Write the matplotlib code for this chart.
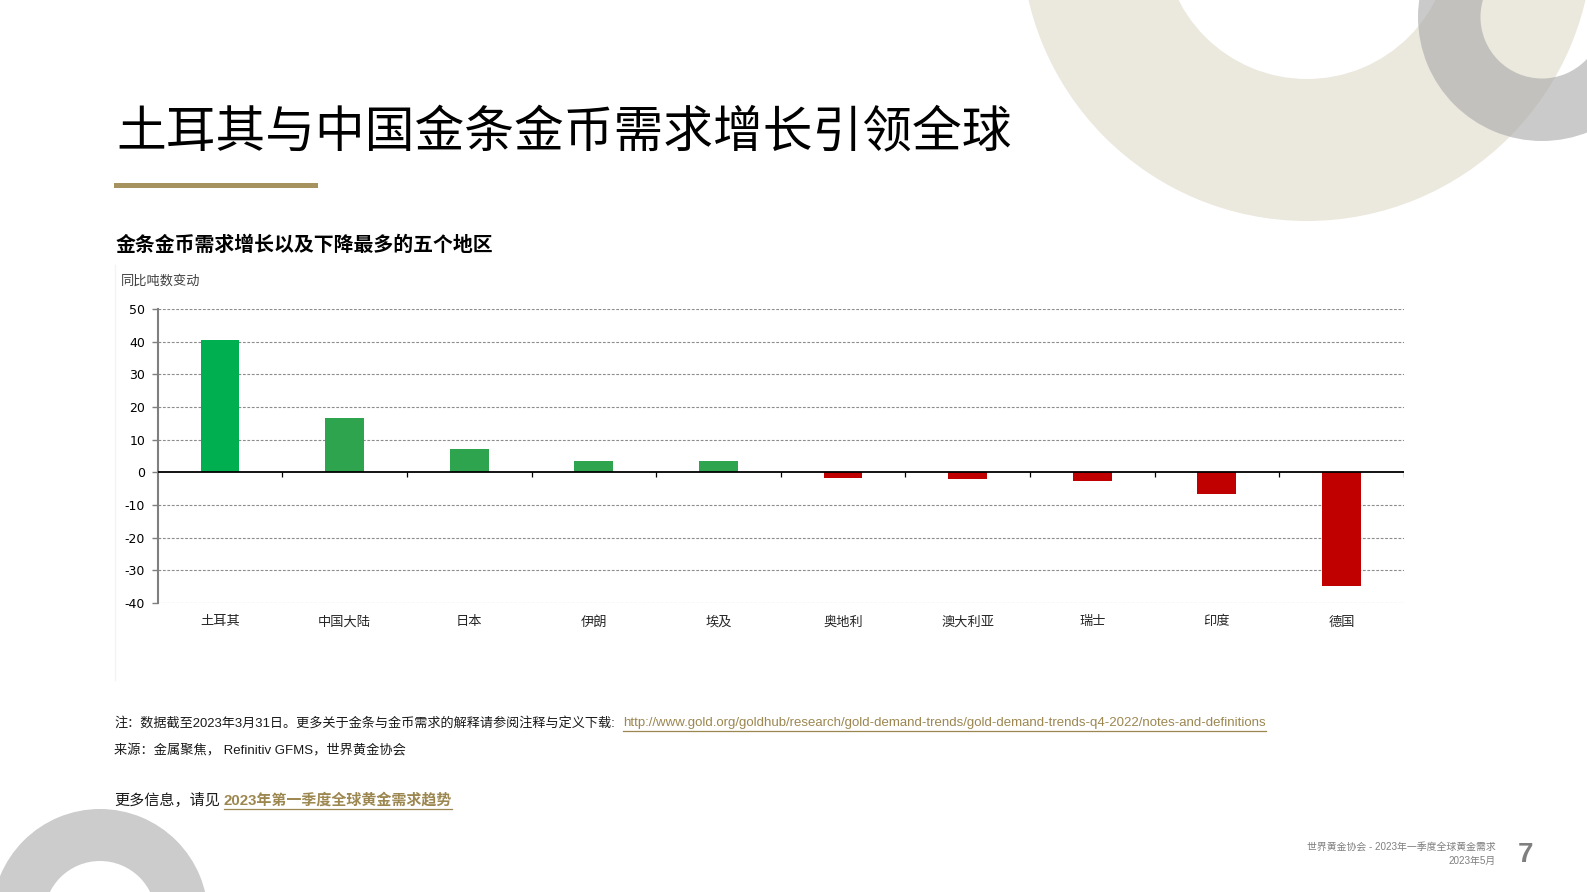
import matplotlib
matplotlib.use('Agg')
import matplotlib.pyplot as plt
import matplotlib.patches as mpatches

plt.rcParams['font.family'] = ['Noto Sans CJK SC', 'DejaVu Sans']

# data (year-on-year change, tonnes)
regions = ['土耳其', '中国大陆', '日本', '伊朗', '埃及', '奥地利', '澳大利亚', '瑞士', '印度', '德国']
change_tonnes = [40.4, 16.5, 7.1, 3.5, 3.5, -1.8, -2.1, -2.6, -6.7, -34.8]
y_ticks = [-40, -30, -20, -10, 0, 10, 20, 30, 40, 50]

title = '土耳其与中国金条金币需求增长引领全球'
subtitle = '金条金币需求增长以及下降最多的五个地区'
y_label = '同比吨数变动'
note = '注：数据截至2023年3月31日。更多关于金条与金币需求的解释请参阅注释与定义下载:'
note_url = 'http://www.gold.org/goldhub/research/gold-demand-trends/gold-demand-trends-q4-2022/notes-and-definitions'
source = '来源：金属聚焦， Refinitiv GFMS，世界黄金协会'
more_info = '更多信息，请见'
more_link = '2023年第一季度全球黄金需求趋势'
footer1 = '世界黄金协会 - 2023年一季度全球黄金需求'
footer2 = '2023年5月'
page_no = '7'

GOLD = '#A6925F'
LINK = '#9C8750'

W, H = 1587, 892
fig = plt.figure(figsize=(W / 100, H / 100), dpi=100)
fig.patch.set_facecolor('white')

# background layer in pixel coordinates
bg = fig.add_axes([0, 0, 1, 1], zorder=0)
bg.set_xlim(0, W)
bg.set_ylim(H, 0)
bg.axis('off')


def ring(cx, cy, r, r_in, color, alpha=1.0, z=1):
    w = mpatches.Wedge((cx, cy), r, 0, 360, width=r - r_in, facecolor=color,
                       edgecolor='none', alpha=alpha, zorder=z)
    bg.add_patch(w)


ring(1307, -65, 286, 144, '#EBE8DD', z=1)
ring(1542, 17, 124, 61.5, '#A8A8A8', alpha=0.6, z=2)
ring(100, 917, 108, 56, '#CCCCCC', z=1)

# title block
bg.text(116, 132, title, fontsize=35.8, va='center', ha='left', color='black')
bg.add_patch(mpatches.Rectangle((114, 183), 204, 5, facecolor=GOLD, edgecolor='none'))
bg.text(116, 244, subtitle, fontsize=14.3, fontweight='bold', va='center', ha='left')
bg.text(121, 281, y_label, fontsize=9.5, va='center', ha='left', color='#404040')

# chart
ax = fig.add_axes([157.7 / W, 1 - 603 / H, 1246 / W, 294 / H], zorder=3)
ax.patch.set_alpha(0)
x = list(range(len(regions)))
colors = ['#00B050'] + ['#2EA44F' if v > 0 else '#C00000' for v in change_tonnes[1:]]
ax.bar(x, change_tonnes, width=0.31, color=colors, zorder=3)

ax.set_xlim(-0.5, len(regions) - 0.5)
ax.set_ylim(-40, 50)
ax.set_yticks(y_ticks)
ax.set_yticklabels([str(t) for t in y_ticks], fontsize=9, family=['DejaVu Sans'])
for t in y_ticks:
    if t != 0:
        ax.axhline(t, color='#8C8C8C', lw=0.8, ls=(0, (2.5, 1.5)), zorder=1)
ax.axhline(0, color='black', lw=1.3, zorder=4)
ax.vlines([i + 0.5 for i in x], -1.4, 0, color='black', lw=0.9, zorder=4)

ax.set_xticks(x)
ax.set_xticklabels(regions, fontsize=9.5, color='#262626')
ax.tick_params(axis='x', length=0, pad=9)
ax.tick_params(axis='y', length=4, width=1, color='#7F7F7F', pad=5)
for s in ['top', 'right', 'bottom']:
    ax.spines[s].set_visible(False)
ax.spines['left'].set_color('#7F7F7F')
ax.spines['left'].set_linewidth(1.5)

# faint chart frame edge
bg.plot([114.5, 114.5], [265, 680], color='#F4F4F4', lw=1)

# notes
latin = ['Liberation Sans', 'Noto Sans CJK SC']
bg.text(114, 723, note, fontsize=9.45, va='center', ha='left', family=latin, color='#1A1A1A')
t_url = bg.text(623, 723, note_url, fontsize=9.5, va='center', ha='left', family=latin, color=LINK)
bg.text(114, 751, source, fontsize=9.5, va='center', ha='left', family=latin, color='#1A1A1A')
bg.text(114, 800, more_info, fontsize=10.9, va='center', ha='left', color='#1A1A1A')
t_link = bg.text(224, 800, more_link, fontsize=10.8, fontweight='bold', va='center', ha='left',
                 color=LINK, family=latin)

# footer
bg.text(1496, 847, footer1, fontsize=7.1, va='center', ha='right', color='#7F7F7F', family=latin)
bg.text(1496, 861, footer2, fontsize=7.1, va='center', ha='right', color='#7F7F7F', family=latin)
bg.text(1518, 855, page_no, fontsize=20, fontweight='bold', va='center', ha='left',
        color='#7F7F7F', family=['Liberation Sans'])

# underline the links
fig.canvas.draw()
inv = bg.transData.inverted()
for t, off in [(t_url, 1.5), (t_link, 2.0)]:
    bb = t.get_window_extent()
    (x0, y0), (x1, y1) = inv.transform([[bb.x0, bb.y0], [bb.x1, bb.y1]])
    bg.plot([x0, x1], [y0 + off, y0 + off], color=LINK, lw=0.9)

fig.savefig('out.png', dpi=100)
